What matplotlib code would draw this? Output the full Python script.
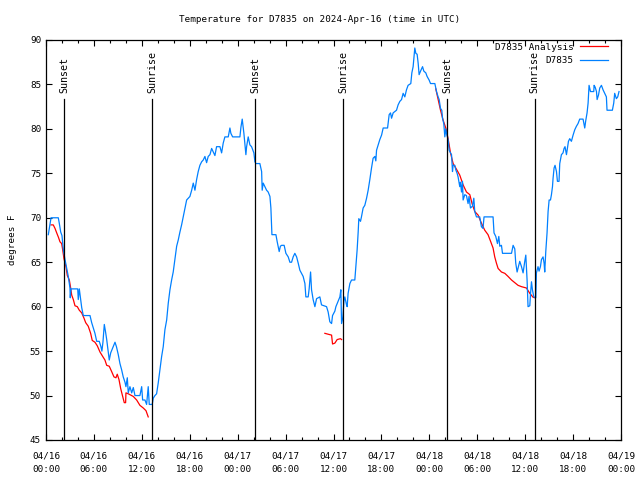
import numpy as np
import matplotlib
matplotlib.use("Agg")
import matplotlib.pyplot as plt
import matplotlib.dates as mdates

# --- data (hours after 2024-04-16 00:00 UTC, deg F) ---
obs_hours = [0.29, 0.63, 1.54, 1.66, 1.84, 2.0, 2.09, 2.17, 2.38, 2.59, 2.79, 3.0, 3.04, 3.13, 3.97,
             4.04, 4.17, 4.47, 4.67, 5.51, 5.72, 6.13, 6.35, 6.67, 6.88, 7.0, 7.13, 7.3, 7.45, 7.6,
             7.8, 7.92, 8.1, 8.42, 8.64, 8.82, 9.05, 9.26, 9.47, 9.67, 9.89, 10.01, 10.18, 10.3,
             10.51, 10.73, 10.93, 11.14, 11.76, 11.98, 12.1, 12.39, 12.6, 12.8, 12.93, 13.3, 13.43,
             13.64, 13.85, 14.05, 14.27, 14.48, 14.68, 14.89, 15.11, 15.31, 15.52, 15.73, 15.93,
             16.15, 16.36, 16.56, 16.77, 16.98, 17.18, 17.4, 17.61, 17.81, 18.02, 18.24, 18.44,
             18.65, 18.86, 19.06, 19.27, 19.49, 19.69, 19.9, 20.11, 20.31, 20.53, 20.74, 20.94,
             21.15, 21.36, 21.78, 21.99, 22.19, 22.4, 22.82, 23.03, 23.15, 23.37, 24.28, 24.41,
             24.57, 24.78, 25.03, 25.12, 25.32, 25.53, 25.74, 25.91, 26.03, 26.16, 26.28, 26.78,
             27.0, 27.07, 27.2, 27.41, 27.62, 27.82, 28.04, 28.16, 28.29, 28.79, 28.95, 29.2,
             29.35, 29.5, 29.82, 30.04, 30.33, 30.54, 30.75, 30.95, 31.16, 31.38, 31.58, 31.79,
             32.2, 32.42, 32.54, 32.83, 32.95, 33.13, 33.25, 33.45, 33.67, 33.88, 34.29, 34.5,
             35.13, 35.33, 35.54, 35.76, 35.88, 36.17, 36.3, 36.58, 36.8, 36.92, 37.01, 37.17,
             37.3, 37.42, 37.63, 37.71, 37.83, 38.05, 38.26, 38.67, 38.8, 38.96, 39.09, 39.17,
             39.38, 39.5, 39.71, 39.92, 40.14, 40.34, 40.55, 40.76, 40.96, 41.18, 41.3, 41.39,
             41.59, 41.8, 42.02, 42.22, 42.77, 42.84, 42.97, 43.14, 43.27, 43.47, 43.89, 44.09,
             44.31, 44.52, 44.72, 44.93, 45.14, 45.34, 45.68, 45.81, 45.97, 46.18, 46.31, 46.47,
             46.6, 46.72, 46.9, 47.15, 47.31, 47.56, 47.72, 47.97, 48.15, 48.69, 48.9, 49.1,
             49.23, 49.4, 49.56, 49.65, 49.81, 49.94, 50.06, 50.15, 50.35, 50.48, 50.65, 50.78,
             50.9, 50.98, 51.19, 51.31, 51.48, 51.6, 51.81, 51.9, 52.03, 52.15, 52.23, 52.44,
             52.65, 52.85, 52.97, 53.15, 53.4, 53.57, 53.69, 53.9, 54.31, 54.52, 54.72, 54.85,
             55.98, 56.1, 56.32, 56.53, 56.7, 56.82, 57.03, 57.16, 58.29, 58.49, 58.7, 58.82,
             58.99, 59.16, 59.32, 59.54, 59.74, 59.95, 60.08, 60.24, 60.36, 60.58, 60.66, 60.79,
             60.91, 61.08, 61.33, 61.41, 61.61, 61.74, 61.91, 62.04, 62.24, 62.37, 62.45, 62.58,
             62.74, 62.87, 63.0, 63.17, 63.29, 63.42, 63.49, 63.62, 63.74, 63.92, 64.04, 64.24,
             64.33, 64.54, 64.74, 64.87, 64.99, 65.17, 65.29, 65.42, 65.58, 65.79, 66.0, 66.21,
             66.42, 66.62, 66.83, 67.25, 67.46, 67.58, 67.75, 67.88, 68.0, 68.18, 68.59, 68.63,
             68.76, 68.93, 69.01, 69.18, 69.34, 69.55, 69.75, 69.96, 70.17, 70.25, 70.92, 71.09,
             71.21, 71.42, 71.59, 71.75]
obs_temp = [68.1, 70.0, 70.0, 69.4, 68.4, 68.0, 67.1, 66.4, 65.3, 64.3, 63.4, 62.1, 61.0, 62.0, 62.0,
            60.8, 62.0, 59.9, 59.0, 59.0, 58.2, 57.0, 56.1, 56.1, 55.5, 55.0, 56.0, 58.0, 57.2, 56.3,
            54.9, 54.0, 54.8, 55.5, 56.0, 55.5, 54.6, 53.6, 52.9, 52.1, 51.5, 51.0, 52.0, 50.3,
            51.0, 50.3, 50.9, 50.0, 50.0, 51.0, 49.5, 49.5, 49.0, 51.0, 49.0, 49.0, 49.7,
            50.0, 50.2, 51.4, 52.9, 54.4, 55.5, 57.4, 58.5, 60.4, 61.9, 63.0, 63.9,
            65.4, 66.8, 67.5, 68.4, 69.2, 70.1, 71.1, 72.0, 72.2, 72.4, 73.1, 73.9,
            73.1, 74.3, 75.2, 75.9, 76.3, 76.5, 76.9, 76.2, 76.9, 77.1, 77.8, 77.4,
            77.0, 78.0, 78.0, 77.3, 78.4, 79.1, 79.1, 80.1, 79.5, 79.1, 79.1, 80.2,
            81.1, 79.5, 77.1, 78.0, 79.1, 78.2, 78.0, 77.6, 77.3, 76.3, 76.1, 76.1,
            75.2, 73.1, 73.9, 73.5, 73.1, 72.9, 72.4, 71.1, 68.1, 68.1, 67.3, 66.2,
            66.8, 66.9, 66.9, 66.0, 65.6, 65.0, 65.0, 65.6, 66.0, 65.6, 64.9, 64.1,
            63.4, 62.6, 61.1, 61.1, 62.0, 63.9, 61.9, 60.8, 60.0, 60.9, 61.1, 60.2,
            60.0, 59.4, 58.3, 58.1, 59.0, 59.5, 60.0, 60.6, 61.1, 61.9, 58.1, 58.8,
            60.6, 61.1, 60.2, 60.0, 61.5, 62.6, 63.0, 63.0, 64.5, 66.4, 68.4, 69.9,
            69.6, 70.1, 71.1, 71.4, 72.2, 73.1, 74.3, 75.6, 76.7, 76.9, 76.4, 77.6,
            78.2, 78.8, 79.3, 80.1, 80.1, 80.6, 81.6, 81.8, 81.2, 81.8, 82.1, 82.7,
            83.1, 83.3, 84.0, 83.6, 84.4, 84.9, 85.1, 86.3, 87.0, 89.1, 88.5, 88.4,
            87.4, 86.1, 86.5, 87.0, 86.5, 86.3, 85.9, 85.5, 85.1, 85.1, 84.2, 83.6,
            83.3, 82.3, 82.1, 81.2, 80.6, 79.1, 80.0, 79.5, 78.8, 77.6, 77.3, 77.1,
            75.2, 75.9, 75.9, 75.4, 75.0, 74.6, 73.5, 74.0, 72.9, 74.1, 72.0, 72.6,
            72.5, 71.6, 72.4, 71.1, 71.3, 72.2, 70.7, 70.1, 70.1, 69.0, 68.8, 70.1,
            70.1, 68.3, 67.9, 67.1, 67.9, 66.8, 66.9, 66.0, 66.0, 66.9, 66.5, 64.9,
            63.9, 64.5, 65.1, 64.5, 63.8, 65.1, 65.8, 63.0, 60.0, 60.1, 61.3, 62.8,
            61.9, 61.1, 61.0, 63.8, 64.5, 64.0, 64.5, 65.3, 65.6, 64.9, 63.9, 66.2,
            68.3, 70.7, 72.0, 72.0, 72.6, 73.5, 74.4, 75.6, 75.9, 75.2, 74.1, 74.1,
            76.1, 77.1, 77.3, 77.8, 78.0, 77.1, 77.8, 78.6, 78.9, 78.6, 79.3, 79.9,
            80.3, 80.6, 81.1, 81.1, 80.1, 80.9, 81.8, 82.9, 84.9, 84.2, 84.2, 84.9,
            84.7, 84.2, 83.3, 83.8, 84.6, 84.9, 84.4, 84.0, 83.6, 82.1, 82.1, 82.9,
            84.0, 83.4, 83.6, 84.2]

# analysis series, three separate stretches
ana1_hours = [0.63, 0.91, 1.13, 1.34, 1.56, 1.75, 1.96, 2.09, 2.25, 2.5, 2.67, 2.92, 3.09, 3.22,
              3.42, 3.63, 3.92, 4.17, 4.47, 4.76, 4.97, 5.29, 5.59, 5.79, 6.13, 6.42, 6.76, 7.1,
              7.38, 7.6, 7.92, 8.22, 8.51, 8.76, 8.92, 9.14, 9.35, 9.6, 9.8, 9.97, 10.01, 10.3,
              10.93, 11.35, 11.76, 12.18, 12.52, 12.8]
ana1_temp = [69.2, 69.2, 68.8, 68.3, 67.8, 67.3, 67.1, 66.4, 65.4, 64.5, 63.5, 63.0, 62.1, 61.3,
             60.8, 60.1, 60.0, 59.6, 59.3, 58.7, 58.2, 57.8, 57.0, 56.2, 56.0, 55.6, 54.9, 54.4,
             54.0, 53.4, 53.3, 52.7, 52.1, 52.0, 52.4, 51.8, 50.8, 49.9, 49.2, 49.2, 50.3, 50.2,
             49.9, 49.5, 48.9, 48.6, 48.3, 47.6]
ana2_hours = [34.92, 35.33, 35.76, 35.88, 36.17, 36.46, 36.88, 37.01]
ana2_temp = [57.0, 56.9, 56.8, 55.8, 55.9, 56.3, 56.4, 56.3]
ana3_hours = [48.81, 49.4, 49.72, 50.06, 50.35, 50.65, 50.98, 51.31, 51.81, 52.23, 52.65, 53.07,
              53.35, 53.69, 54.11, 54.52, 54.94, 55.35, 55.69, 55.98, 56.19, 56.4, 56.61, 57.03,
              57.45, 57.86, 58.29, 58.7, 59.11, 59.54, 60.16, 60.58, 61.0, 61.24]
ana3_temp = [84.5, 82.1, 81.0, 80.1, 78.9, 77.3, 76.1, 75.6, 74.8, 73.7, 72.9, 72.6,
             71.6, 70.7, 70.3, 69.4, 68.6, 68.1, 67.3, 66.6, 65.6, 64.9, 64.3, 63.9,
             63.75, 63.4, 63.0, 62.7, 62.4, 62.25, 62.1, 61.5, 61.05, 61.0]

sun_hours = [2.25, 13.3, 26.2, 37.2, 50.2, 61.2]
sun_labels = ["Sunset", "Sunrise", "Sunset", "Sunrise", "Sunset", "Sunrise"]

start = np.datetime64("2024-04-16T00:00")


def to_time(hours):
    return start + (np.array(hours) * 3600).astype("timedelta64[s]")


plt.rcParams["font.family"] = "DejaVu Sans Mono"
plt.rcParams["font.size"] = 6.7

fig = plt.figure(figsize=(6.4, 4.8), dpi=100)
ax = fig.add_axes([46 / 640, 40 / 480, 575 / 640, 400 / 480])

ax.plot(to_time(ana1_hours), ana1_temp, color="#ff0000", lw=0.9, label="D7835 Analysis")
ax.plot(to_time(ana2_hours), ana2_temp, color="#ff0000", lw=0.9)
ax.plot(to_time(ana3_hours), ana3_temp, color="#ff0000", lw=0.9)
ax.plot(to_time(obs_hours), obs_temp, color="#0080ff", lw=0.9, label="D7835")

for h, lab in zip(to_time(sun_hours), sun_labels):
    ax.axvline(h, ymin=0, ymax=0.853, color="black", lw=0.9)
    ax.text(h, 0.868, lab, rotation=90, ha="center", va="bottom", fontsize=7.2,
            transform=ax.get_xaxis_transform())

ax.set_xlim(start, start + np.timedelta64(72, "h"))
ax.set_ylim(45, 90)
ax.set_yticks(np.arange(45, 91, 5))
ax.xaxis.set_major_locator(mdates.HourLocator(byhour=range(0, 24, 6)))
ax.xaxis.set_minor_locator(mdates.HourLocator(byhour=range(0, 24, 2)))
ax.xaxis.set_major_formatter(mdates.DateFormatter("%m/%d\n%H:%M"))
ax.tick_params(which="both", direction="in", top=True, right=True, width=0.8)
ax.tick_params(which="major", length=4)
ax.tick_params(which="minor", length=2.5)
ax.tick_params(axis="x", which="major", pad=8)
for lab in ax.get_xticklabels():
    lab.set_linespacing(1.75)
for s in ax.spines.values():
    s.set_linewidth(0.9)

fig.text(0.5, 1 - 19 / 480, "Temperature for D7835 on 2024-Apr-16 (time in UTC)",
         ha="center", va="center")
ax.set_ylabel("degrees F", labelpad=9)

leg = ax.legend(loc="upper right", bbox_to_anchor=(1 - 9 / 575, 1 + 1 / 400),
                frameon=False, markerfirst=False, handlelength=3.0, borderaxespad=0,
                labelspacing=0.45, handletextpad=0.7)

fig.savefig("out.png", dpi=100)
